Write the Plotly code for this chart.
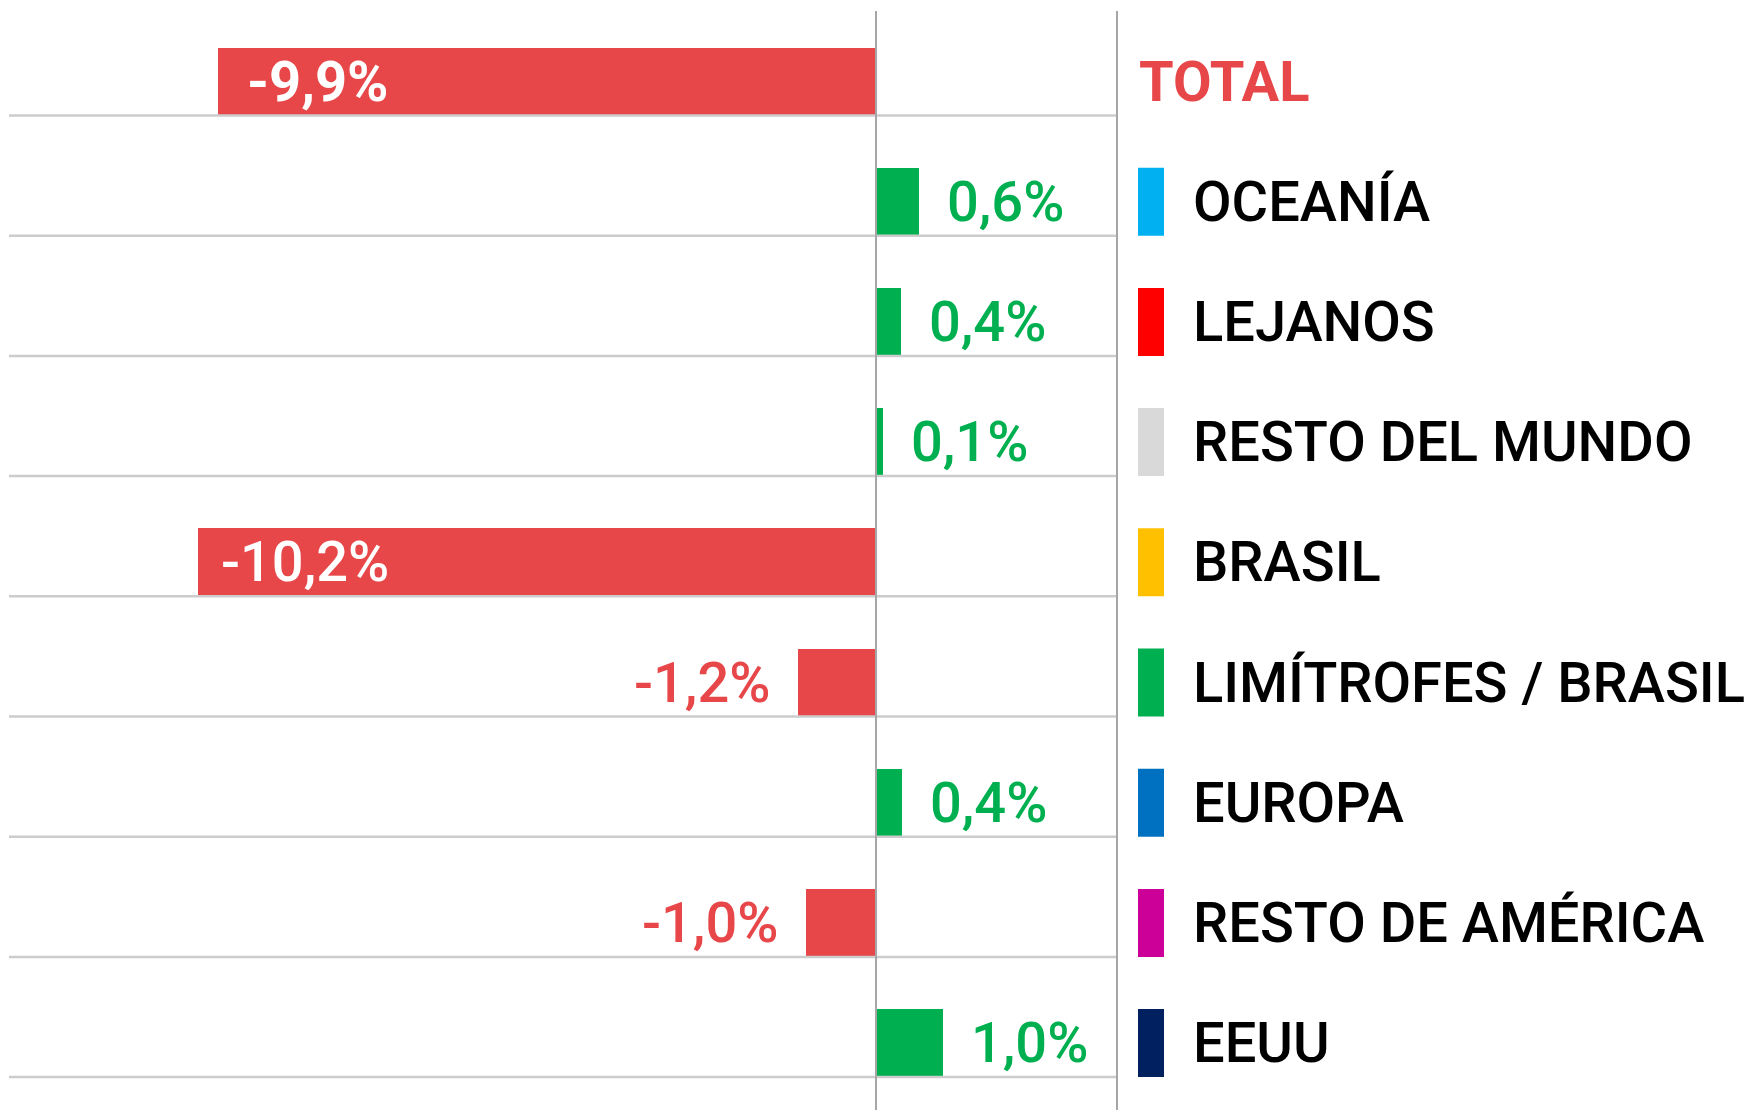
import plotly.graph_objects as go

# ---- data ----
categories = ["TOTAL", "OCEANÍA", "LEJANOS", "RESTO DEL MUNDO", "BRASIL",
              "LIMÍTROFES / BRASIL", "EUROPA", "RESTO DE AMÉRICA", "EEUU"]
values = [-9.9, 0.65, 0.38, 0.1, -10.2, -1.18, 0.39, -1.05, 1.0]
value_labels = ["-9,9%", "0,6%", "0,4%", "0,1%", "-10,2%", "-1,2%", "0,4%", "-1,0%", "1,0%"]
label_weights = ["bold", 500, 500, 500, 500, 500, 500, 500, 500]
legend_colors = [None, "#00B0F0", "#FF0000", "#D9D9D9", "#FFC000",
                 "#00B050", "#0070C0", "#CC0099", "#002060"]

# ---- layout constants (pixels) ----
W, H = 1749, 1110
ZERO_PX = 876
PX_PER_UNIT = 66.5
ROW_PX = 120.2
FIRST_CENTER_PX = 81.5
BAR_PX = 68
SEP_PX = 1117
GRID_LEFT_PX = 9
SWATCH_L, SWATCH_R = 1138, 1164
TEXT_L = 1191
INSIDE_LABEL_RIGHT_PX = 391
FONT = "Roboto"
FS = 56
RED = "#E8474A"
GREEN = "#00B050"

n = len(categories)
ys = list(range(n))
half = BAR_PX / 2 / ROW_PX

fig = go.Figure()
fig.add_trace(go.Bar(
    y=ys, x=values, orientation="h", width=BAR_PX / ROW_PX,
    marker=dict(color=[RED if v < 0 else GREEN for v in values], line=dict(width=0)),
    hoverinfo="skip", showlegend=False,
))

shapes = []
annotations = []
for k in ys:
    # row grid line under each bar
    shapes.append(dict(type="line", xref="paper", yref="y",
                       x0=GRID_LEFT_PX / W, x1=SEP_PX / W, y0=k + half, y1=k + half,
                       line=dict(color="#CCCCCC", width=2.5), layer="above"))
    # legend swatch
    if legend_colors[k]:
        shapes.append(dict(type="rect", xref="paper", yref="y",
                           x0=SWATCH_L / W, x1=SWATCH_R / W, y0=k - half, y1=k + half,
                           fillcolor=legend_colors[k], line=dict(width=0)))
        annotations.append(dict(xref="paper", yref="y", x=TEXT_L / W, y=k,
                                text=categories[k], showarrow=False, xanchor="left",
                                yanchor="middle",
                                font=dict(family=FONT, size=FS, color="#000000", weight=500)))
    else:
        annotations.append(dict(xref="paper", yref="y", x=(SWATCH_L - 1) / W, y=k,
                                text=categories[k], showarrow=False,
                                xanchor="left", yanchor="middle",
                                font=dict(family=FONT, size=FS, color=RED, weight="bold")))
    v = values[k]
    if abs(v) > 5:
        annotations.append(dict(xref="paper", yref="y", x=INSIDE_LABEL_RIGHT_PX / W, y=k,
                                text=value_labels[k], showarrow=False, xanchor="right",
                                yanchor="middle",
                                font=dict(family=FONT, size=FS, color="#FFFFFF",
                                          weight=label_weights[k])))
    elif v < 0:
        annotations.append(dict(xref="x", yref="y", x=v, y=k, text=value_labels[k],
                                showarrow=False, xanchor="right", xshift=-26, yanchor="middle",
                                font=dict(family=FONT, size=FS, color=RED,
                                          weight=label_weights[k])))
    else:
        annotations.append(dict(xref="x", yref="y", x=v, y=k, text=value_labels[k],
                                showarrow=False, xanchor="left", xshift=26, yanchor="middle",
                                font=dict(family=FONT, size=FS, color=GREEN,
                                          weight=label_weights[k])))

# vertical lines: zero axis and separator
shapes.append(dict(type="line", xref="x", yref="paper", x0=0, x1=0, y0=0, y1=1 - 11 / H,
                   line=dict(color="#A6A6A6", width=2), layer="above"))
shapes.append(dict(type="line", xref="paper", yref="paper", x0=SEP_PX / W, x1=SEP_PX / W,
                   y0=0, y1=1 - 11 / H, line=dict(color="#A6A6A6", width=2), layer="above"))

fig.update_layout(
    width=W, height=H, margin=dict(l=0, r=0, t=0, b=0),
    paper_bgcolor="white", plot_bgcolor="white",
    xaxis=dict(range=[-ZERO_PX / PX_PER_UNIT, (W - ZERO_PX) / PX_PER_UNIT],
               showgrid=False, zeroline=False, showticklabels=False, fixedrange=True),
    yaxis=dict(range=[(H - FIRST_CENTER_PX) / ROW_PX, -FIRST_CENTER_PX / ROW_PX],
               showgrid=False, zeroline=False, showticklabels=False, fixedrange=True),
    shapes=shapes, annotations=annotations, bargap=0,
)

fig.write_html("out.html", config={"displayModeBar": False},
               post_script="document.body.style.margin='0px';document.body.style.overflow='hidden';")
